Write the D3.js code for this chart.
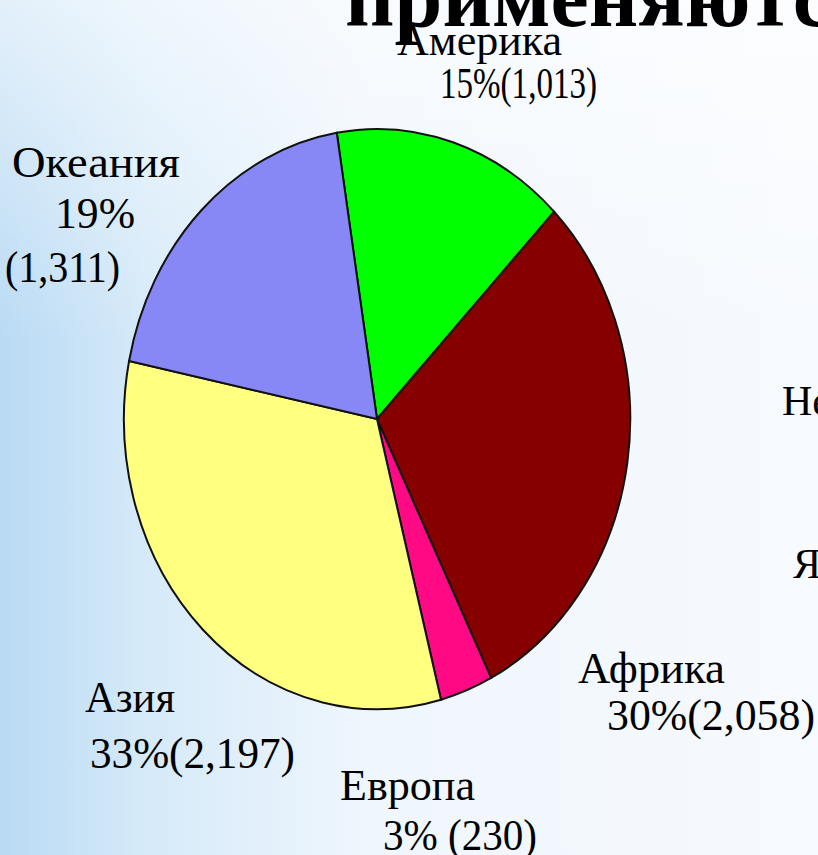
<!DOCTYPE html>
<html>
<head>
<meta charset="utf-8">
<script src="https://cdn.jsdelivr.net/npm/d3@7"></script>
<style>
  html, body { margin: 0; padding: 0; overflow: hidden; }
  #chart-area { width: 818px; height: 855px; }
</style>
</head>
<body>
<div id="chart-area"></div>
<script>
// data
const regions = ["Америка", "Африка", "Европа", "Азия", "Океания"];
const counts = [1013, 2058, 230, 2197, 1311];
const shares = ["15%", "30%", "3%", "33%", "19%"];
const colors = ["#00ff00", "#860000", "#ff0a84", "#ffff80", "#8787f5"];

// label placement (layout only): x, baseline y, target width for each line
const labelLayout = {
  "Америка": [[397, 55, 165], [440, 98, 157]],
  "Африка":  [[578, 683, 147], [607, 730, 208]],
  "Европа":  [[340, 800, 135], [383, 850, 154]],
  "Азия":    [[85, 712, 90], [90, 768, 205]],
  "Океания": [[12, 177, 168], [55, 228, 80], [5, 282, 115]]
};

const W = 818, H = 855;
const CX = 377, CY = 419, RX = 253, RY = 290;

const svg = d3.select("#chart-area").append("svg")
  .attr("width", W)
  .attr("height", H);

// slide background: pale blue fading from the left edge
const defs = svg.append("defs");
const bg = defs.append("linearGradient").attr("id", "bg")
  .attr("x1", 0).attr("y1", 0).attr("x2", 1).attr("y2", 0);
bg.append("stop").attr("offset", "0%").attr("stop-color", "#b9daf4");
bg.append("stop").attr("offset", "18%").attr("stop-color", "#d6eaf9");
bg.append("stop").attr("offset", "45%").attr("stop-color", "#eff6fd");
bg.append("stop").attr("offset", "100%").attr("stop-color", "#f7fafe");

const fade = defs.append("linearGradient").attr("id", "fade")
  .attr("x1", 0).attr("y1", 0).attr("x2", 0).attr("y2", 1);
fade.append("stop").attr("offset", "0%").attr("stop-color", "#ffffff").attr("stop-opacity", 0.6);
fade.append("stop").attr("offset", "40%").attr("stop-color", "#ffffff").attr("stop-opacity", 0);

svg.append("rect").attr("width", W).attr("height", H).attr("fill", "url(#bg)");
svg.append("rect").attr("width", W).attr("height", H).attr("fill", "url(#fade)");

// title, cut by the top of the frame
svg.append("text")
  .attr("x", 345)
  .attr("y", 26)
  .attr("font-family", "Liberation Serif, Times New Roman, serif")
  .attr("font-weight", "bold")
  .attr("font-size", 86)
  .attr("fill", "#000")
  .text("применяются");

// text of the slide cut at the right edge
svg.append("text").attr("x", 782).attr("y", 415)
  .attr("font-family", "Liberation Serif, serif").attr("font-size", 42)
  .text("Не");
svg.append("text").attr("x", 793).attr("y", 578)
  .attr("font-family", "Liberation Serif, serif").attr("font-size", 42)
  .text("Я");

// pie, drawn on a unit circle and stretched into the ellipse
const data = regions.map((r, i) => ({ region: r, count: counts[i], share: shares[i], color: colors[i] }));

const start = -0.16;
const pie = d3.pie()
  .sort(null)
  .value(d => d.count)
  .startAngle(start)
  .endAngle(start + 2 * Math.PI);

const arc = d3.arc().innerRadius(0).outerRadius(1);

const g = svg.append("g")
  .attr("transform", `translate(${CX}, ${CY}) scale(${RX}, ${RY})`);

g.selectAll("path")
  .data(pie(data))
  .enter().append("path")
  .attr("d", arc)
  .attr("fill", d => d.data.color)
  .attr("stroke", "#111")
  .attr("stroke-width", 2)
  .attr("vector-effect", "non-scaling-stroke");

// labels
const fmt = d3.format(",");
data.forEach(d => {
  let lines;
  if (d.region === "Океания") {
    lines = [d.region, d.share, `(${fmt(d.count)})`];
  } else if (d.region === "Европа") {
    lines = [d.region, `${d.share} (${fmt(d.count)})`];
  } else {
    lines = [d.region, `${d.share}(${fmt(d.count)})`];
  }
  const pos = labelLayout[d.region];
  lines.forEach((t, i) => {
    svg.append("text")
      .attr("x", pos[i][0])
      .attr("y", pos[i][1])
      .attr("textLength", pos[i][2])
      .attr("lengthAdjust", "spacingAndGlyphs")
      .attr("font-family", "Liberation Serif, Times New Roman, serif")
      .attr("font-size", 44)
      .attr("fill", "#000")
      .text(t);
  });
});
</script>
</body>
</html>
